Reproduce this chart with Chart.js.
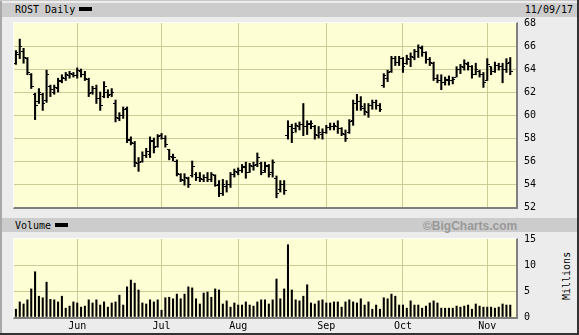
<!DOCTYPE html>
<html>
<head>
<meta charset="utf-8">
<script src="https://cdn.jsdelivr.net/npm/chart.js@4.4.1/dist/chart.umd.min.js"></script>
<style>
  body { margin: 0; background: #fff; }
  #wrap { position: relative; width: 579px; height: 335px; background: #ececec; overflow: hidden;
          font-family: "DejaVu Sans Mono", monospace; font-size: 10px; color: #000; }
  .abs { position: absolute; }
  .band { left: 2px; width: 575px; height: 14px; background: #cccccc; }
  .panel { background: #fefed4; }
  .bl { border-left: 1px solid #fff; border-top: 1px solid #fff;
        border-right: 2px solid #7f7f7f; border-bottom: 2px solid #7f7f7f; z-index: 3; }
  .txt { line-height: 12px; white-space: nowrap; }
  .swatch { background: #000; width: 13px; height: 4px; }
  canvas { position: absolute; left: 0; top: 0; z-index: 2; }
</style>
</head>
<body>
<div id="wrap">
  <!-- outer frame -->
  <div class="abs" style="left:0;top:0;width:2px;height:335px;background:#a8a8a8;z-index:4"></div>
  <div class="abs" style="left:0;top:0;width:579px;height:1px;background:#c8c8c8;z-index:4"></div>
  <div class="abs" style="left:577px;top:0;width:2px;height:335px;background:#333;z-index:4"></div>
  <div class="abs" style="left:0;top:333px;width:579px;height:2px;background:#333;z-index:4"></div>

  <div class="abs band" style="top:3px"></div>
  <div class="abs txt" style="left:15px;top:4px">ROST Daily</div>
  <div class="abs swatch" style="left:79px;top:7px"></div>
  <div class="abs txt" style="right:6px;top:4px">11/09/17</div>

  <div class="abs band" style="top:218px"></div>
  <div class="abs txt" style="left:15px;top:220px">Volume</div>
  <div class="abs swatch" style="left:55px;top:223px"></div>
  <div class="abs" style="left:423px;top:219px;line-height:14px;font:bold 12px 'Liberation Sans',Arial,sans-serif;color:#999">©BigCharts.com</div>

  <div class="abs txt" style="left:543px;top:270px;width:48px;text-align:center;transform:rotate(-90deg)">Millions</div>

  <!-- plot panels -->
  <div class="abs panel" style="left:14px;top:23px;width:502px;height:184px"></div>
  <div class="abs bl" style="left:13px;top:22px;width:502px;height:184px"></div>
  <div class="abs panel" style="left:14px;top:239px;width:502px;height:78px"></div>
  <div class="abs bl" style="left:13px;top:238px;width:502px;height:78px"></div>

  <canvas id="price" width="579" height="335"></canvas>
  <canvas id="volume" width="579" height="335"></canvas>
</div>
<script>
const dates = [
  '05/09','05/10','05/11','05/12','05/15','05/16','05/17','05/18','05/19','05/22','05/23','05/24','05/25','05/26','05/30','05/31',
  '06/01','06/02','06/05','06/06','06/07','06/08','06/09','06/12','06/13','06/14','06/15','06/16','06/19','06/20','06/21','06/22','06/23','06/26','06/27','06/28','06/29','06/30',
  '07/03','07/05','07/06','07/07','07/10','07/11','07/12','07/13','07/14','07/17','07/18','07/19','07/20','07/21','07/24','07/25','07/26','07/27','07/28','07/31',
  '08/01','08/02','08/03','08/04','08/07','08/08','08/09','08/10','08/11','08/14','08/15','08/16','08/17','08/18','08/21','08/22','08/23','08/24','08/25','08/28','08/29','08/30','08/31',
  '09/01','09/05','09/06','09/07','09/08','09/11','09/12','09/13','09/14','09/15','09/18','09/19','09/20','09/21','09/22','09/25','09/26','09/27','09/28','09/29',
  '10/02','10/03','10/04','10/05','10/06','10/09','10/10','10/11','10/12','10/13','10/16','10/17','10/18','10/19','10/20','10/23','10/24','10/25','10/26','10/27','10/30','10/31',
  '11/01','11/02','11/03','11/06','11/07','11/08','11/09'
];

const opens = [
  64.5,65.3,65.5,64.9,63.5,61.8,61.2,61.8,61.3,62.5,62.0,62.3,62.9,63.2,63.4,63.5,
  63.4,63.8,63.5,63.1,62.0,62.3,61.4,61.6,62.0,61.8,61.0,59.7,60.0,60.6,57.9,57.5,55.8,56.0,56.5,56.6,57.7,57.3,
  58.2,58.0,57.0,56.3,56.0,54.8,54.3,54.5,54.7,54.8,54.6,54.4,54.6,54.4,54.7,54.0,53.2,53.8,54.0,54.8,
  55.0,55.2,55.4,55.0,55.5,55.7,55.8,55.2,55.5,55.0,54.5,53.5,54.0,58.2,59.0,58.8,59.0,59.2,59.0,59.2,59.0,58.2,58.3,
  58.5,58.9,59.0,59.0,58.8,58.3,58.5,59.5,61.0,61.2,60.6,60.2,60.8,61.1,60.8,62.6,63.2,63.8,64.9,64.6,
  64.9,64.5,64.8,65.0,65.5,65.8,65.4,64.8,64.5,63.2,63.0,62.8,63.0,63.0,63.3,64.0,64.1,64.4,64.2,63.5,63.8,63.5,
  63.0,64.2,63.8,64.3,64.2,64.0,64.6
];
const highs = [
  65.6,66.6,65.8,65.0,63.6,61.9,62.3,61.9,63.9,62.6,62.6,63.2,63.5,63.7,63.8,63.7,
  64.1,64.0,63.8,63.2,62.5,62.6,62.0,62.9,62.2,62.3,61.3,60.2,60.7,60.7,58.1,57.7,56.3,56.8,57.1,58.1,58.0,58.3,
  58.4,58.2,57.0,56.6,56.1,54.9,54.9,54.6,56.0,55.0,55.0,54.8,55.0,55.0,54.8,54.3,54.4,54.3,55.0,55.3,
  55.4,55.7,55.9,55.8,55.9,56.7,55.9,55.9,55.7,56.1,54.7,54.3,54.3,59.5,59.2,59.3,59.4,61.0,59.5,59.5,59.1,59.0,58.8,
  59.1,59.3,59.3,59.5,58.9,58.7,59.6,61.3,61.8,61.6,61.0,61.0,61.3,61.3,61.0,63.6,63.9,65.1,65.1,65.1,
  65.0,65.2,65.4,65.7,66.1,66.0,65.5,65.0,64.6,63.5,63.5,63.3,63.4,63.3,64.2,64.4,64.8,64.6,64.3,64.5,63.9,63.7,
  64.9,64.2,64.6,64.5,64.5,64.9,65.0
];
const lows = [
  64.4,64.9,64.5,63.5,62.3,59.6,61.0,60.4,61.1,61.6,61.8,62.0,62.8,63.0,63.2,63.3,
  63.2,63.3,63.0,61.6,61.8,61.0,60.4,61.5,61.5,61.6,59.4,59.5,59.7,57.6,57.4,55.5,55.1,55.9,56.3,56.3,56.7,57.2,
  57.9,57.2,56.1,56.0,54.7,54.2,53.9,53.7,54.6,54.3,54.2,54.2,54.2,54.2,53.8,52.9,53.0,53.3,53.7,54.6,
  54.8,55.0,54.5,55.0,55.2,55.5,54.8,55.0,54.6,54.6,52.8,53.3,53.1,57.9,57.6,58.5,58.7,58.2,58.3,58.8,57.9,58.0,57.9,
  58.4,58.7,58.7,58.4,58.2,57.7,58.4,59.1,60.4,60.4,60.0,59.8,60.5,60.5,60.3,62.4,62.9,63.7,64.3,64.3,
  63.7,64.4,64.2,64.8,65.0,65.1,64.5,64.3,63.0,62.8,62.2,62.6,62.6,62.7,63.3,63.6,63.9,63.9,63.2,63.5,63.3,62.4,
  63.0,63.5,63.7,63.9,62.8,63.7,63.5
];
const closes = [
  65.4,66.0,65.0,63.7,62.5,60.8,62.0,61.0,63.5,62.2,62.4,63.0,63.3,63.5,63.6,63.4,
  63.9,63.5,63.2,61.9,62.3,61.4,60.8,62.5,61.7,62.0,59.8,60.0,60.5,57.8,57.6,55.9,55.9,56.5,56.8,57.8,57.2,58.1,
  58.0,57.4,56.4,56.3,54.9,54.4,54.6,54.0,55.5,54.6,54.5,54.6,54.4,54.8,53.9,53.2,54.0,54.0,54.8,55.1,
  55.2,55.5,55.0,55.6,55.6,56.3,55.0,55.6,54.8,55.9,53.2,54.0,53.4,59.0,58.5,59.1,59.2,59.0,59.3,59.3,58.3,58.5,58.5,
  58.9,59.0,59.1,58.8,58.4,58.0,59.4,61.0,61.2,60.7,60.3,60.8,61.1,60.8,60.5,63.4,63.7,64.9,64.6,64.9,
  64.2,64.9,65.1,65.5,65.9,65.4,64.8,64.6,63.2,63.0,62.8,63.1,63.0,63.1,64.0,64.2,64.5,64.2,63.5,64.0,63.5,62.8,
  64.4,63.8,64.3,64.2,64.0,64.5,63.8
];
// volume, millions of shares
const volumes = [
  1.5,2.9,2.5,3.3,5.4,8.7,4.0,3.7,6.7,3.4,3.3,2.9,4.0,1.7,2.1,2.9,
  2.7,1.9,2.1,3.3,2.7,3.3,2.3,2.9,1.9,2.7,2.9,4.2,2.3,5.8,7.1,6.5,5.2,2.7,2.5,3.3,2.9,3.3,
  1.3,3.7,3.8,3.5,4.4,3.5,4.4,5.8,5.6,3.5,2.5,4.6,4.8,3.8,5.4,5.2,2.5,3.1,1.9,2.7,
  2.3,2.3,2.9,2.3,2.1,2.9,3.3,3.3,2.5,3.3,7.3,3.5,5.4,13.9,5.2,3.3,3.1,4.0,6.2,2.7,2.5,3.1,3.3,
  2.7,2.7,2.9,2.9,1.9,2.9,3.3,2.9,2.7,3.5,2.3,2.9,1.5,2.3,1.5,3.7,3.5,4.4,4.0,2.3,
  2.3,1.7,3.1,2.3,2.3,1.7,2.1,2.7,3.1,2.7,1.7,1.7,1.7,1.7,2.1,1.9,2.1,2.3,1.5,2.5,2.1,1.9,
  1.9,1.9,1.7,1.9,2.5,2.3,2.3
];
const monthNames = ['Jan','Feb','Mar','Apr','May','Jun','Jul','Aug','Sep','Oct','Nov','Dec'];
const priceRange = [52, 68, 2];
const volumeRange = [0, 15, 5];

const GRID = '#cccc99';
const MONO = { family: 'DejaVu Sans Mono', size: 10 };

// first trading day of each month gets a grid line + label
const monthStarts = [];
dates.forEach((d, i) => {
  if (i > 0 && d.slice(0, 2) !== dates[i - 1].slice(0, 2)) monthStarts.push(i);
});
const idx = dates.map((d, i) => i);

// open / close ticks as little point images
function tickImage(side) {
  const c = document.createElement('canvas');
  c.width = 5; c.height = 1;
  const g = c.getContext('2d');
  g.fillStyle = '#000';
  g.fillRect(side === 'open' ? 0 : 3, 0, 2, 1);
  return c;
}
const openTick = tickImage('open');
const closeTick = tickImage('close');

const crisp = {
  id: 'crisp',
  beforeDatasetsDraw(chart) { chart.ctx.imageSmoothingEnabled = false; }
};

function hideEdges(min, max) {
  return ctx => (ctx.tick && (ctx.tick.value === min || ctx.tick.value === max)) ? 'rgba(0,0,0,0)' : GRID;
}

function xScale(showLabels, height) {
  return {
    type: 'linear',
    min: -0.5,
    max: dates.length + 0.5,
    offset: false,
    afterBuildTicks: s => { s.ticks = monthStarts.map(v => ({ value: v })); },
    afterFit: s => { s.height = height; },
    ticks: {
      display: showLabels,
      autoSkip: false,
      maxRotation: 0,
      padding: 3,
      color: '#000',
      font: MONO,
      callback: v => monthNames[parseInt(dates[v].slice(0, 2), 10) - 1]
    },
    grid: { color: GRID, drawTicks: false, offset: false },
    border: { display: false }
  };
}

function yScale(range) {
  return {
    position: 'right',
    min: range[0],
    max: range[1],
    afterFit: s => { s.width = 63; },
    ticks: { stepSize: range[2], padding: 8, color: '#000', font: MONO },
    grid: { color: hideEdges(range[0], range[1]), drawTicks: false },
    border: { display: false }
  };
}

const common = {
  responsive: false,
  animation: false,
  events: [],
  plugins: { legend: { display: false }, tooltip: { enabled: false } }
};

new Chart(document.getElementById('price'), {
  type: 'bar',
  data: {
    datasets: [
      {
        type: 'bar',
        data: idx.map(i => ({ x: i, y: [lows[i], highs[i]] })),
        backgroundColor: '#000',
        barThickness: 1.4,
        grouped: false
      },
      {
        type: 'line',
        data: idx.map(i => ({ x: i, y: opens[i] })),
        showLine: false,
        pointStyle: openTick,
        pointRadius: 1
      },
      {
        type: 'line',
        data: idx.map(i => ({ x: i, y: closes[i] })),
        showLine: false,
        pointStyle: closeTick,
        pointRadius: 1
      }
    ]
  },
  options: Object.assign({}, common, {
    layout: { padding: { left: 14, top: 23, right: 0, bottom: 128 } },
    scales: { x: xScale(false, 0), y: yScale(priceRange) }
  }),
  plugins: [crisp]
});

new Chart(document.getElementById('volume'), {
  type: 'bar',
  data: {
    datasets: [{
      data: idx.map(i => ({ x: i, y: volumes[i] })),
      backgroundColor: '#000',
      barThickness: 1.4,
      grouped: false
    }]
  },
  options: Object.assign({}, common, {
    layout: { padding: { left: 14, top: 239, right: 0, bottom: 0 } },
    scales: { x: xScale(true, 18), y: yScale(volumeRange) }
  })
});
</script>
</body>
</html>
